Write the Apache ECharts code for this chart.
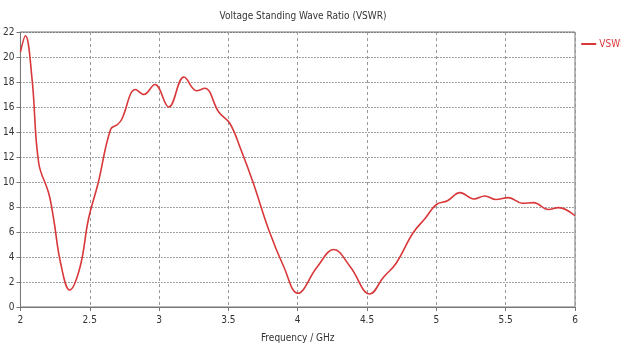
<!DOCTYPE html>
<html><head><meta charset="utf-8">
<script src="https://cdn.jsdelivr.net/npm/echarts@6/dist/echarts.min.js"></script>
<style>html,body{margin:0;padding:0;background:#fff}#c{width:621px;height:348px}</style>
</head><body><div id="c"></div>
<script>
var freq = [2.0, 2.036, 2.084, 2.132, 2.204, 2.24, 2.29, 2.355, 2.43, 2.49, 2.56, 2.65, 2.70, 2.73, 2.83, 2.89, 2.97, 3.07, 3.18, 3.27, 3.33, 3.43, 3.51, 3.59, 3.68, 3.79, 3.90, 4.0, 4.14, 4.26, 4.38, 4.52, 4.62, 4.71, 4.83, 4.92, 5.0, 5.08, 5.17, 5.27, 5.35, 5.43, 5.52, 5.62, 5.70, 5.81, 5.88, 6.0];
var vswr = [20.4, 21.7, 18.2, 11.5, 9.1, 7.0, 3.5, 1.36, 3.2, 7.0, 9.9, 14.2, 14.6, 15.0, 17.4, 17.0, 17.8, 16.0, 18.4, 17.3, 17.5, 15.6, 14.7, 12.6, 9.9, 6.2, 3.2, 1.1, 3.2, 4.6, 3.2, 1.04, 2.4, 3.5, 5.9, 7.1, 8.2, 8.5, 9.15, 8.64, 8.88, 8.6, 8.75, 8.3, 8.35, 7.8, 7.95, 7.3];
var seriesName = 'VSWR1';
var titleText = 'Voltage Standing Wave Ratio (VSWR)';
var xName = 'Frequency / GHz';

var pts = freq.map(function(f, i){ return [f, vswr[i]]; });
var font = "'Liberation Sans Narrow','DejaVu Sans Condensed',sans-serif";
var chart = echarts.init(document.getElementById('c'), null, {renderer:'canvas'});
chart.setOption({
  animation: false,
  backgroundColor: '#fff',
  title: { text: titleText, left: 298, top: 6, textAlign: 'center',
    textStyle: { fontSize: 10, fontWeight: 'normal', color: '#333', fontFamily: font } },
  legend: { right: -16, top: 34, itemWidth: 15, itemHeight: 2, itemGap: 4,
    icon: 'rect',
    textStyle: { fontSize: 10, color: '#d9383a', fontFamily: font, padding: [0,0,0,-2] },
    data: [{ name: seriesName }] },
  grid: { left: 20, right: 46, top: 32, bottom: 41, show: true, borderColor: '#777', borderWidth: 1, containLabel: false },
  xAxis: { type: 'value', min: 2, max: 6, interval: 0.5,
    name: xName, nameLocation: 'middle', nameGap: 26,
    nameTextStyle: { fontSize: 10, color: '#333', fontFamily: font },
    axisLine: { lineStyle: { color: '#777' } },
    axisTick: { show: true, length: 4, lineStyle: { color: '#777' } },
    axisLabel: { fontSize: 10, color: '#333', fontFamily: font, margin: 8 },
    splitLine: { show: true, lineStyle: { color: '#999', type: [3, 3], width: 1 } } },
  yAxis: { type: 'value', min: 0, max: 22, interval: 2,
    axisLine: { show: true, lineStyle: { color: '#777' } },
    axisTick: { show: true, length: 4, lineStyle: { color: '#777' } },
    axisLabel: { fontSize: 10, color: '#333', fontFamily: font, margin: 6 },
    splitLine: { show: true, lineStyle: { color: '#444', type: [1, 2], width: 1 } } },
  series: [{ name: seriesName, type: 'line', data: pts, smooth: 0.4, showSymbol: false,
    lineStyle: { color: '#d9383a', width: 1.6 }, itemStyle: { color: '#d9383a' } }]
});
</script></body></html>
